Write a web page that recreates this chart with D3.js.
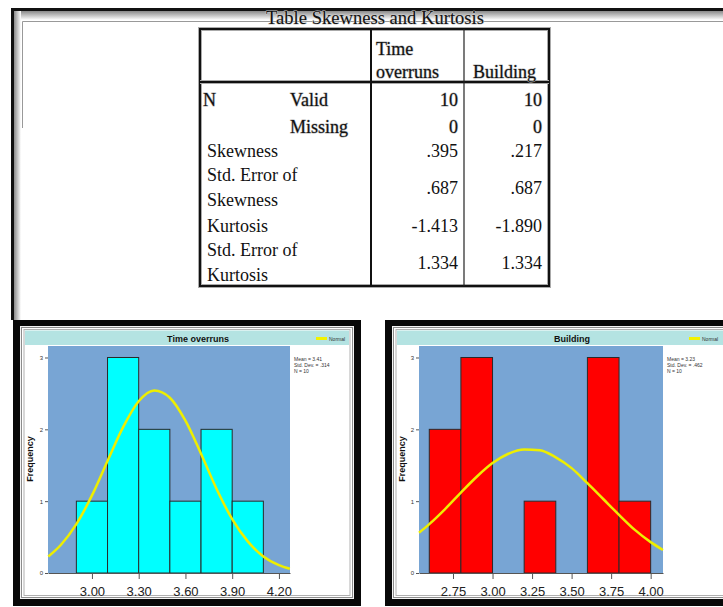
<!DOCTYPE html>
<html>
<head>
<meta charset="utf-8">
<script src="https://cdn.jsdelivr.net/npm/d3@7.9.0/dist/d3.min.js"></script>
<style>
  html, body { margin: 0; padding: 0; background: #fff; }
  svg { display: block; }
</style>
</head>
<body>
<svg id="chart" width="723" height="607"></svg>
<script>
// TABLE DATA
const tableTitle = 'Table Skewness and Kurtosis';
const columnNames = [['Time', 'overruns'], ['Building']];
const rowLabels = [['N', 'Valid'], ['', 'Missing'], ['Skewness'], ['Std. Error of', 'Skewness'], ['Kurtosis'], ['Std. Error of', 'Kurtosis']];
const timeValues = ['10', '0', '.395', '.687', '-1.413', '1.334'];
const buildingValues = ['10', '0', '.217', '.687', '-1.890', '1.334'];

// HISTOGRAM DATA (time overruns)
const timeBinEdges = [2.9, 3.1, 3.3, 3.5, 3.7, 3.9, 4.1];
const timeCounts = [1, 3, 2, 1, 2, 1];
const timeTicks = [3.00, 3.30, 3.60, 3.90, 4.20];
const timeCurveX = [2.72, 2.8, 2.9, 3.0, 3.1, 3.2, 3.3, 3.4, 3.5, 3.6, 3.7, 3.8, 3.9, 4.0, 4.1, 4.2, 4.27];
const timeCurveY = [0.23, 0.39, 0.68, 1.08, 1.56, 2.03, 2.39, 2.54, 2.44, 2.12, 1.66, 1.17, 0.75, 0.44, 0.23, 0.11, 0.06];
const timeStats = ['Mean = 3.41', 'Std. Dev. = .314', 'N = 10'];

// HISTOGRAM DATA (building)
const buildingBinEdges = [2.6, 2.8, 3.0, 3.2, 3.4, 3.6, 3.8, 4.0];
const buildingCounts = [2, 3, 0, 1, 0, 3, 1];
const buildingTicks = [2.75, 3.00, 3.25, 3.50, 3.75, 4.00];
const buildingCurveX = [2.535, 2.6, 2.7, 2.8, 2.9, 3.0, 3.1, 3.2, 3.3, 3.4, 3.5, 3.6, 3.7, 3.8, 3.9, 4.0, 4.078];
const buildingCurveY = [0.56, 0.68, 0.89, 1.12, 1.34, 1.53, 1.66, 1.72, 1.71, 1.61, 1.46, 1.25, 1.03, 0.81, 0.60, 0.43, 0.32];
const buildingStats = ['Mean = 3.23', 'Std. Dev. = .462', 'N = 10'];

const freqTicks = [0, 1, 2, 3];

const svg = d3.select('#chart');
const defs = svg.append('defs');

// shadow gradients for the page frame
const gDown = defs.append('linearGradient').attr('id', 'shadeDown')
  .attr('x1', 0).attr('y1', 0).attr('x2', 0).attr('y2', 1);
gDown.append('stop').attr('offset', 0).attr('stop-color', '#8a8a8a');
gDown.append('stop').attr('offset', 1).attr('stop-color', '#fff');
const gRight = defs.append('linearGradient').attr('id', 'shadeRight')
  .attr('x1', 0).attr('y1', 0).attr('x2', 1).attr('y2', 0);
gRight.append('stop').attr('offset', 0).attr('stop-color', '#8a8a8a');
gRight.append('stop').attr('offset', 1).attr('stop-color', '#fff');

// PAGE FRAME
svg.append('rect').attr('x', 14).attr('y', 11).attr('width', 709).attr('height', 9).attr('fill', 'url(#shadeDown)');
svg.append('rect').attr('x', 14).attr('y', 11).attr('width', 7).attr('height', 309).attr('fill', 'url(#shadeRight)');
svg.append('rect').attr('x', 11).attr('y', 8).attr('width', 712).attr('height', 3).attr('fill', '#111');
svg.append('rect').attr('x', 11).attr('y', 8).attr('width', 3).attr('height', 312).attr('fill', '#111');
svg.append('path')
  .attr('d', 'M22.5,128 V21.5 H723')
  .attr('fill', 'none').attr('stroke', '#999').attr('stroke-width', 1);

// TABLE
const serif = '"Liberation Serif", "Times New Roman", serif';
const table = svg.append('g').attr('font-family', serif).attr('font-size', 18).attr('fill', '#111');

function embossed(sel) {
  return sel.attr('stroke', '#b8b8b8').attr('stroke-width', 1.1)
    .attr('paint-order', 'stroke').attr('stroke-linejoin', 'round');
}

embossed(table.append('text')
  .attr('x', 375).attr('y', 24).attr('text-anchor', 'middle')
  .attr('textLength', 218).attr('lengthAdjust', 'spacingAndGlyphs')
  .text(tableTitle))
  .attr('stroke', '#cfcfcf');

const tLeft = 200, tRight = 549, tTop = 29, tBottom = 286;
const colA = 371, colB = 464, headBottom = 82;

// borders (soft shadow + dark line)
table.append('rect').attr('x', tLeft).attr('y', tTop).attr('width', tRight - tLeft).attr('height', tBottom - tTop)
  .attr('fill', 'none').attr('stroke', '#aaa').attr('stroke-width', 4);
table.append('rect').attr('x', tLeft).attr('y', tTop).attr('width', tRight - tLeft).attr('height', tBottom - tTop)
  .attr('fill', 'none').attr('stroke', '#111').attr('stroke-width', 2);
table.append('line').attr('x1', tLeft).attr('x2', tRight).attr('y1', headBottom).attr('y2', headBottom)
  .attr('stroke', '#aaa').attr('stroke-width', 4);
table.append('line').attr('x1', tLeft).attr('x2', tRight).attr('y1', headBottom).attr('y2', headBottom)
  .attr('stroke', '#111').attr('stroke-width', 2);
table.append('line').attr('x1', colA).attr('x2', colA).attr('y1', tTop).attr('y2', tBottom)
  .attr('stroke', '#111').attr('stroke-width', 2);
table.append('line').attr('x1', colB).attr('x2', colB).attr('y1', tTop).attr('y2', tBottom)
  .attr('stroke', '#222').attr('stroke-width', 1.2);

// header cells
const headX = [376, 473];
const headY = [[55, 78], [78]];
columnNames.forEach((lines, i) => {
  lines.forEach((line, j) => {
    embossed(table.append('text').attr('x', headX[i]).attr('y', headY[i][j]).text(line));
  });
});

// row layout: label positions and value baseline
const rowLayout = [
  { lines: [[203, 106], [290, 106]], value: 106, emboss: true },
  { lines: [[203, 133], [290, 133]], value: 133, emboss: true },
  { lines: [[207, 157]], value: 157 },
  { lines: [[207, 181], [207, 206]], value: 194 },
  { lines: [[207, 232]], value: 232 },
  { lines: [[207, 256], [207, 281]], value: 269 }
];
const valueRight = [458, 542];

rowLabels.forEach((labels, i) => {
  const lay = rowLayout[i];
  labels.forEach((label, j) => {
    if (!label) return;
    const t = table.append('text').attr('x', lay.lines[j][0]).attr('y', lay.lines[j][1]).text(label);
    if (lay.emboss) embossed(t);
  });
  [timeValues[i], buildingValues[i]].forEach((v, k) => {
    const t = table.append('text').attr('x', valueRight[k]).attr('y', lay.value)
      .attr('text-anchor', 'end').text(v);
    if (lay.emboss) embossed(t);
  });
});

// HISTOGRAMS
const sans = 'Arial, "Liberation Sans", sans-serif';
const yScale = d3.scaleLinear().domain([0, 3.16]).range([573, 346]);

function drawHistogram(cfg) {
  const g = svg.append('g').attr('font-family', sans);
  const fx = cfg.frameX, fy = 320, fw = cfg.frameW, fh = 286;

  // black frame with double inner rule
  g.append('rect').attr('x', fx).attr('y', fy).attr('width', fw).attr('height', fh).attr('fill', '#080808');
  g.append('rect').attr('x', fx + 7).attr('y', fy + 6).attr('width', fw - 14).attr('height', fh - 13).attr('fill', '#f4f4f4');
  g.append('rect').attr('x', fx + 8.5).attr('y', fy + 7.5).attr('width', fw - 17).attr('height', fh - 16)
    .attr('fill', '#fff').attr('stroke', '#8c8c8c').attr('stroke-width', 1);
  g.append('rect').attr('x', fx + 11).attr('y', fy + 9.5).attr('width', fw - 22).attr('height', fh - 20)
    .attr('fill', '#fff').attr('stroke', '#b0b0b0').attr('stroke-width', 1);

  // title bar
  g.append('rect').attr('x', fx + 12).attr('y', 330.5).attr('width', fw - 24).attr('height', 14.5).attr('fill', '#b4e3e2');
  g.append('text').attr('x', cfg.titleX).attr('y', 341.5).attr('text-anchor', 'middle')
    .attr('font-size', 9).attr('font-weight', 'bold').attr('fill', '#111').text(cfg.title);

  // legend
  g.append('line').attr('x1', cfg.legendX).attr('x2', cfg.legendX + 11).attr('y1', 338.5).attr('y2', 338.5)
    .attr('stroke', '#f2f200').attr('stroke-width', 3);
  g.append('text').attr('x', cfg.legendX + 13).attr('y', 340.5).attr('font-size', 5).attr('fill', '#333').text('Normal');

  const x = d3.scaleLinear().domain(cfg.domain).range(cfg.range);

  // plot area
  g.append('rect').attr('x', cfg.range[0]).attr('y', 346)
    .attr('width', cfg.range[1] - cfg.range[0]).attr('height', 573 - 346).attr('fill', '#78a5d4');

  // bars
  const bins = cfg.counts.map((c, i) => ({ x0: cfg.edges[i], x1: cfg.edges[i + 1], count: c }))
    .filter(d => d.count > 0);
  g.selectAll('rect.bar').data(bins).join('rect')
    .attr('class', 'bar')
    .attr('x', d => x(d.x0))
    .attr('y', d => yScale(d.count))
    .attr('width', d => x(d.x1) - x(d.x0))
    .attr('height', d => yScale(0) - yScale(d.count))
    .attr('fill', cfg.fill)
    .attr('stroke', '#2a2a2a').attr('stroke-width', 1);

  // normal curve
  const line = d3.line().x(d => x(d[0])).y(d => yScale(d[1])).curve(d3.curveMonotoneX);
  g.append('path').datum(d3.zip(cfg.curveX, cfg.curveY))
    .attr('d', line).attr('fill', 'none')
    .attr('stroke', '#eeee00').attr('stroke-width', 2.5);

  // axes
  const xAxis = g.append('g').attr('transform', 'translate(0,573)')
    .call(d3.axisBottom(x).tickValues(cfg.ticks).tickFormat(d3.format('.2f')).tickSize(6).tickPadding(8).tickSizeOuter(0));
  xAxis.select('.domain').attr('stroke', '#555');
  xAxis.selectAll('.tick line').attr('stroke', '#555');
  xAxis.selectAll('text').attr('font-size', 13).attr('fill', '#222').attr('font-family', sans);

  const yAxis = g.append('g').attr('transform', `translate(${cfg.range[0]},0)`)
    .call(d3.axisLeft(yScale).tickValues(freqTicks).tickFormat(d3.format('d')).tickSize(3).tickPadding(2).tickSizeOuter(0));
  yAxis.select('.domain').remove();
  yAxis.selectAll('.tick line').attr('stroke', '#555');
  yAxis.selectAll('text').attr('font-size', 6).attr('fill', '#333').attr('font-family', sans);

  g.append('text')
    .attr('transform', `translate(${cfg.ylabelX},459) rotate(-90)`)
    .attr('text-anchor', 'middle').attr('font-size', 9).attr('font-weight', 'bold').attr('fill', '#111')
    .text('Frequency');

  // stats box
  g.append('g').selectAll('text').data(cfg.stats).join('text')
    .attr('x', cfg.range[1] + 4)
    .attr('y', (d, i) => 361 + i * 6)
    .attr('font-size', 5).attr('fill', '#333')
    .text(d => d);
}

drawHistogram({
  frameX: 13, frameW: 348, title: 'Time overruns', titleX: 198, legendX: 316, ylabelX: 33,
  domain: [2.718, 4.271], range: [48, 290],
  edges: timeBinEdges, counts: timeCounts, ticks: timeTicks,
  curveX: timeCurveX, curveY: timeCurveY, stats: timeStats, fill: '#00ffff'
});

drawHistogram({
  frameX: 385, frameW: 360, title: 'Building', titleX: 572, legendX: 689, ylabelX: 405,
  domain: [2.535, 4.078], range: [419, 663],
  edges: buildingBinEdges, counts: buildingCounts, ticks: buildingTicks,
  curveX: buildingCurveX, curveY: buildingCurveY, stats: buildingStats, fill: '#ff0000'
});
</script>
</body>
</html>
